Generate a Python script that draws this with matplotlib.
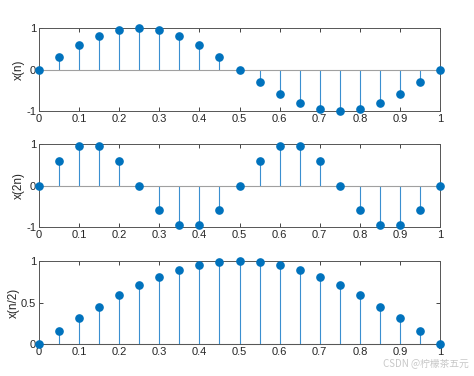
import matplotlib.pyplot as plt
import numpy as np

plt.rcParams['font.family'] = ['Liberation Sans', 'DejaVu Sans']

n = [0, 0.05, 0.1, 0.15, 0.2, 0.25, 0.3, 0.35, 0.4, 0.45, 0.5,
     0.55, 0.6, 0.65, 0.7, 0.75, 0.8, 0.85, 0.9, 0.95, 1.0]

x_n = [0, 0.31, 0.59, 0.81, 0.95, 1.0, 0.95, 0.81, 0.59, 0.31, 0,
       -0.31, -0.59, -0.81, -0.95, -1.0, -0.95, -0.81, -0.59, -0.31, 0]
x_2n = [0, 0.59, 0.95, 0.95, 0.59, 0, -0.59, -0.95, -0.95, -0.59, 0,
        0.59, 0.95, 0.95, 0.59, 0, -0.59, -0.95, -0.95, -0.59, 0]
x_half = [0, 0.16, 0.31, 0.45, 0.59, 0.71, 0.81, 0.89, 0.95, 0.99, 1.0,
          0.99, 0.95, 0.89, 0.81, 0.71, 0.59, 0.45, 0.31, 0.16, 0]

labels = ['x(n)', 'x(2n)', 'x(n/2)']
series = [x_n, x_2n, x_half]
ylims = [(-1, 1), (-1, 1), (0, 1)]
yticks = [[-1, 0, 1], [-1, 0, 1], [0, 0.5, 1]]
yticklabels = [['-1', '0', '1'], ['-1', '0', '1'], ['0', '0.5', '1']]
xticks = [0, 0.1, 0.2, 0.3, 0.4, 0.5, 0.6, 0.7, 0.8, 0.9, 1]
xticklabels = ['0', '0.1', '0.2', '0.3', '0.4', '0.5', '0.6', '0.7', '0.8', '0.9', '1']

blue = '#0072BD'
stem_blue = '#3a8fd0'
edge = '#555555'

fig = plt.figure(figsize=(4.74, 3.76), dpi=100)
left, width = 0.0823, 0.846
bottoms = [0.7048, 0.396, 0.0851]
height = 0.2207

for i in range(3):
    ax = fig.add_axes([left, bottoms[i], width, height])
    markerline, stemlines, baseline = ax.stem(n, series[i])
    markerline.set_color(blue)
    markerline.set_markersize(5.2)
    markerline.set_zorder(3)
    stemlines.set_color(stem_blue)
    stemlines.set_linewidth(0.8)
    baseline.set_color('#a0a0a0')
    baseline.set_linewidth(0.8)
    ax.set_xlim(0, 1)
    ax.set_ylim(*ylims[i])
    ax.set_xticks(xticks)
    ax.set_xticklabels(xticklabels)
    ax.set_yticks(yticks[i])
    ax.set_yticklabels(yticklabels[i])
    ax.set_ylabel(labels[i], fontsize=8.5, color='#262626', labelpad=1)
    ax.tick_params(direction='in', length=3, width=0.6, labelsize=8,
                   colors='#262626', top=True, right=True, pad=2)
    for s in ax.spines.values():
        s.set_color(edge)
        s.set_linewidth(0.7)
    markerline.set_clip_on(False)
    baseline.set_clip_on(False)
    stemlines.set_clip_on(False)

fig.text(0.99, 0.02, 'CSDN @柠檬茶五元', ha='right', va='bottom', fontsize=7,
         color='#c8c8c8', family=['Noto Sans CJK SC', 'DejaVu Sans'])

fig.savefig('out.png', dpi=100)
